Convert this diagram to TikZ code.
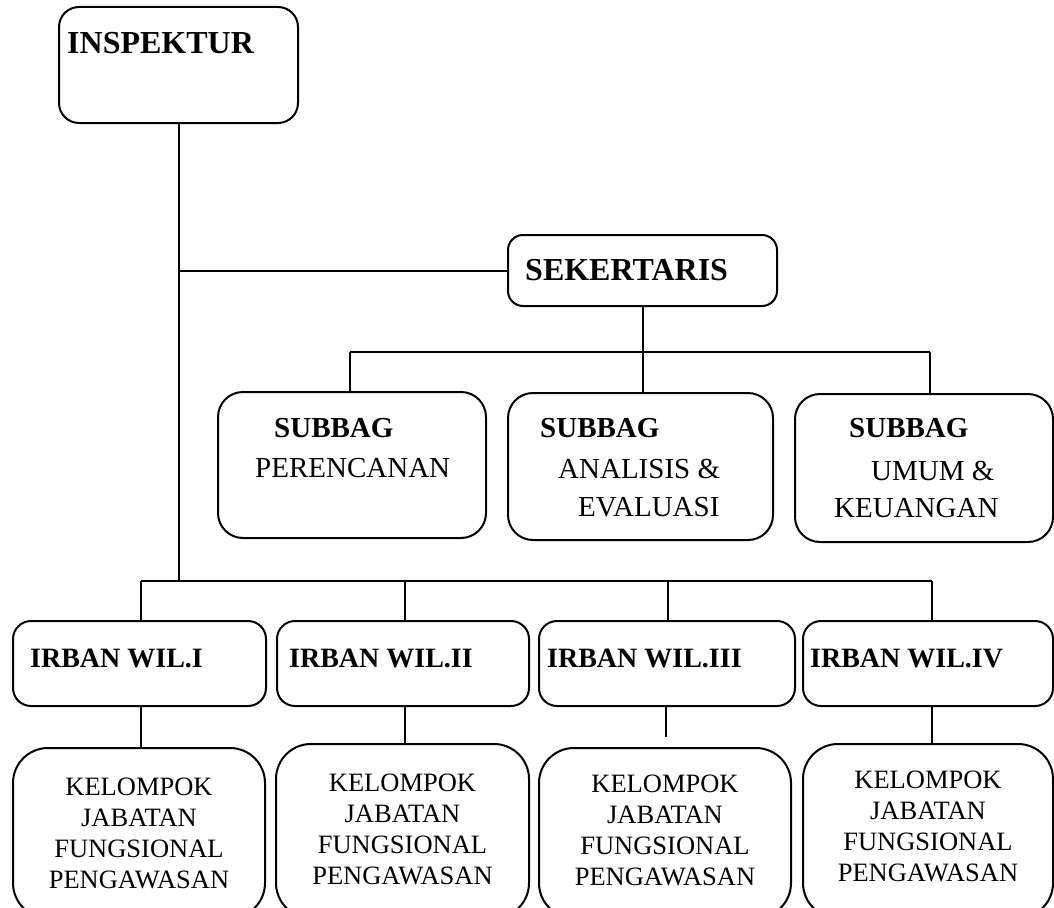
\documentclass[tikz,border=0pt]{standalone}
\usepackage{fontspec}
\setmainfont{Liberation Serif}
\begin{document}
\begin{tikzpicture}[x=1pt,y=-1pt,
  box/.style={draw=black, line width=2pt, rounded corners=#1, inner sep=0pt, fill=white},
  conn/.style={draw=black, line width=2pt},
  tbig/.style={inner sep=0pt, anchor=base west, font=\fontsize{32}{38}\selectfont\bfseries},
  tsubb/.style={inner sep=0pt, anchor=base west, font=\fontsize{29}{34}\selectfont\bfseries},
  tsub/.style={inner sep=0pt, anchor=base west, font=\fontsize{29}{34}\selectfont},
  tirb/.style={inner sep=0pt, anchor=base west, font=\fontsize{28}{33}\selectfont\bfseries},
  tkel/.style={inner sep=0pt, anchor=north, align=center, font=\fontsize{26.5}{31}\selectfont}
]
\useasboundingbox (0,0) rectangle (1054,907);
\clip (0,0) rectangle (1054,907);
\fill[white] (0,0) rectangle (1054,907);

% connector coordinates
\coordinate (ibar) at (179,581);
\coordinate (sbarL) at (350,352);
\coordinate (sbarR) at (930,352);
\coordinate (rbar1) at (141,581);
\coordinate (rbar2) at (405,581);
\coordinate (rbar3) at (668,581);
\coordinate (rbar4) at (932,581);

% boxes
\node[box=20pt, minimum width=239pt, minimum height=116pt] (insp) at (178.5,65) {};
\node[box=15pt, minimum width=269pt, minimum height=71pt] (sek) at (642.5,270.5) {};
\node[box=25pt, minimum width=268pt, minimum height=146pt] (sub1) at (352,465) {};
\node[box=25pt, minimum width=265pt, minimum height=147pt] (sub2) at (640.5,466.5) {};
\node[box=25pt, minimum width=258pt, minimum height=148pt] (sub3) at (924,468) {};
\node[box=18pt, minimum width=253pt, minimum height=85pt] (irb1) at (139.5,663.5) {};
\node[box=18pt, minimum width=252pt, minimum height=85pt] (irb2) at (403,663.5) {};
\node[box=18pt, minimum width=256pt, minimum height=85pt] (irb3) at (667,663.5) {};
\node[box=18pt, minimum width=250pt, minimum height=85pt] (irb4) at (928,663.5) {};
\node[box=35pt, minimum width=252pt, minimum height=170pt] (kel1) at (139,833) {};
\node[box=35pt, minimum width=253pt, minimum height=174pt] (kel2) at (402.5,831) {};
\node[box=35pt, minimum width=252pt, minimum height=170pt] (kel3) at (665,833) {};
\node[box=35pt, minimum width=250pt, minimum height=174pt] (kel4) at (928,831) {};

% connector lines
\draw[conn] (ibar |- insp.south) -- (ibar);
\draw[conn] (sek.west) -- (ibar |- sek.west);
\draw[conn] (sek.south) -- (sek.south |- sub2.north);
\draw[conn] (sbarL) -- (sbarR);
\draw[conn] (sbarL) -- (sbarL |- sub1.north);
\draw[conn] (sbarR) -- (sbarR |- sub3.north);
\draw[conn] (rbar1) -- (rbar4);
\draw[conn] (rbar1) -- (rbar1 |- irb1.north);
\draw[conn] (rbar2) -- (rbar2 |- irb2.north);
\draw[conn] (rbar3) -- (rbar3 |- irb3.north);
\draw[conn] (rbar4) -- (rbar4 |- irb4.north);
\coordinate (k1) at (141,748);
\coordinate (k2) at (405,744);
\coordinate (k3) at (666,737);
\coordinate (k4) at (932,744);
\draw[conn] (k1 |- irb1.south) -- (k1);
\draw[conn] (k2 |- irb2.south) -- (k2);
\draw[conn] (k3 |- irb3.south) -- (k3);
\draw[conn] (k4 |- irb4.south) -- (k4);

% texts
\node[tbig] (tinsp) at (67,53) {INSPEKTUR};
\node[tbig] (tsek) at (525,280) {SEKERTARIS};

\node[tsubb] (ts1a) at (274,437) {SUBBAG};
\node[tsub] (ts1b) at (255,477) {PERENCANAN};
\node[tsubb] (ts2a) at (540,437) {SUBBAG};
\node[tsub] (ts2b) at (558,478) {ANALISIS \&};
\node[tsub] (ts2c) at (578,516) {EVALUASI};
\node[tsubb] (ts3a) at (849,437) {SUBBAG};
\node[tsub] (ts3b) at (871,480) {UMUM \&};
\node[tsub] (ts3c) at (834,517) {KEUANGAN};

\node[tirb] (ti1) at (30,667) {IRBAN WIL.I};
\node[tirb] (ti2) at (289,667) {IRBAN WIL.II};
\node[tirb] (ti3) at (547,667) {IRBAN WIL.III};
\node[tirb] (ti4) at (810,667) {IRBAN WIL.IV};

\node[tkel] (tk1) at (139,778) {KELOMPOK\\JABATAN\\FUNGSIONAL\\PENGAWASAN};
\node[tkel] (tk2) at (402.5,774) {KELOMPOK\\JABATAN\\FUNGSIONAL\\PENGAWASAN};
\node[tkel] (tk3) at (665,775) {KELOMPOK\\JABATAN\\FUNGSIONAL\\PENGAWASAN};
\node[tkel] (tk4) at (928,771) {KELOMPOK\\JABATAN\\FUNGSIONAL\\PENGAWASAN};
\end{tikzpicture}
\end{document}
